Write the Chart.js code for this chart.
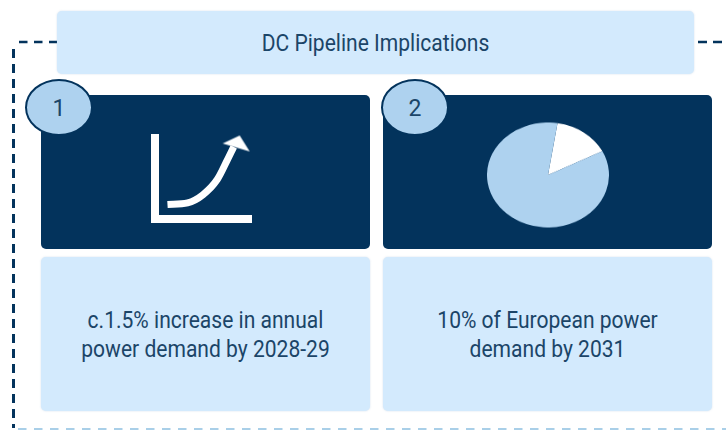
<!DOCTYPE html>
<html>
<head>
<meta charset="utf-8">
<script src="https://cdn.jsdelivr.net/npm/chart.js@4"></script>
<style>
  html, body { margin: 0; padding: 0; background: #fff; width: 726px; height: 430px; overflow: hidden; }
  body { position: relative; font-family: Roboto, sans-serif; color: #1b4568; }
  .box { position: absolute; border-radius: 5px; }
  .light { background: #d3eafd; box-shadow: 0 0 2px rgba(120,160,200,.35); }
  .dark { background: #03335c; }
  .oval { position: absolute; box-sizing: border-box; width: 68px; height: 57px; top: 79px; border-radius: 50%;
          background: #aed2ef; border: 2px solid #03335c; font-size: 23px; line-height: 55px; text-align: center; }
  .txt { position: absolute; white-space: nowrap; text-align: center; font-size: 24px; line-height: 29px;
         transform: scaleX(.877); }
  canvas { position: absolute; }
  svg { position: absolute; left: 0; top: 0; }
</style>
</head>
<body>
<svg width="726" height="430">
  <path d="M13.5 428V43" fill="none" stroke="#03335c" stroke-width="3" stroke-dasharray="9 6" stroke-dashoffset="5"/>
  <path d="M19 42H57" fill="none" stroke="#03335c" stroke-width="2.6" stroke-dasharray="8.5 6.5"/>
  <path d="M698 42H722" fill="none" stroke="#03335c" stroke-width="2.6" stroke-dasharray="9 6"/>
  <path d="M18 429H726" fill="none" stroke="#a9cfe8" stroke-width="2" stroke-dasharray="8.5 7.5"/>
</svg>

<div class="box light" style="left:57px;top:11px;width:637px;height:63px"></div>
<div class="txt" style="left:57px;top:29px;width:637px;">DC Pipeline Implications</div>

<div class="box dark" style="left:41px;top:95px;width:329px;height:154px"></div>
<div class="box dark" style="left:383px;top:95px;width:329px;height:154px"></div>
<div class="oval" style="left:25px">1</div>
<div class="oval" style="left:381px">2</div>

<canvas id="growth" width="130" height="110" style="left:135px;top:120px"></canvas>
<canvas id="share" width="122" height="122" style="left:486.5px;top:113.5px;transform:scaleY(.861)"></canvas>

<div class="box light" style="left:41px;top:257px;width:329px;height:154px"></div>
<div class="box light" style="left:383px;top:257px;width:329px;height:154px"></div>
<div class="txt" style="left:41px;top:306px;width:329px;">c.1.5% increase in annual<br>power demand by 2028-29</div>
<div class="txt" style="left:383px;top:306px;width:329px;">10% of European power<br>demand by 2031</div>

<script>
// values
const curveX = [13, 34, 50, 65, 75, 82];
const curveY = [18, 20, 30, 49, 72, 89];
const headX = [84];
const headY = [92];
const shareLabels = ["Europe DC", "Rest"];
const shareValues = [15, 85];

// arrow head for the end of the curve
const head = document.createElement("canvas");
head.width = 32;
head.height = 20;
const hc = head.getContext("2d");
hc.fillStyle = "#fff";
hc.beginPath();
hc.moveTo(3, 9);
hc.lineTo(20, 1);
hc.lineTo(30, 17);
hc.closePath();
hc.fill();

new Chart(document.getElementById("growth"), {
	type: "line",
	data: {
		datasets: [
			{
				data: curveX.map((x, i) => ({ x: x, y: curveY[i] })),
				borderColor: "#fff",
				borderWidth: 7,
				cubicInterpolationMode: "monotone",
				pointRadius: 0,
			},
			{
				data: headX.map((x, i) => ({ x: x, y: headY[i] })),
				showLine: false,
				clip: false,
				pointStyle: head,
				pointRadius: 10,
			},
		],
	},
	options: {
		responsive: false,
		animation: false,
		layout: { padding: { left: 12, bottom: 2, top: 18, right: 14 } },
		plugins: { legend: { display: false }, tooltip: { enabled: false } },
		scales: {
			x: {
				type: "linear",
				min: 0,
				max: 100,
				ticks: { display: false },
				grid: { display: false },
				border: { color: "#fff", width: 8 },
			},
			y: {
				min: 0,
				max: 100,
				ticks: { display: false },
				grid: { display: false },
				border: { color: "#fff", width: 8 },
			},
		},
	},
});

new Chart(document.getElementById("share"), {
	type: "pie",
	data: {
		labels: shareLabels,
		datasets: [
			{
				data: shareValues,
				backgroundColor: ["#ffffff", "#aed2ef"],
				borderWidth: 0,
			},
		],
	},
	options: {
		responsive: false,
		animation: false,
		rotation: 9,
		plugins: { legend: { display: false }, tooltip: { enabled: false } },
	},
});
</script>
</body>
</html>
